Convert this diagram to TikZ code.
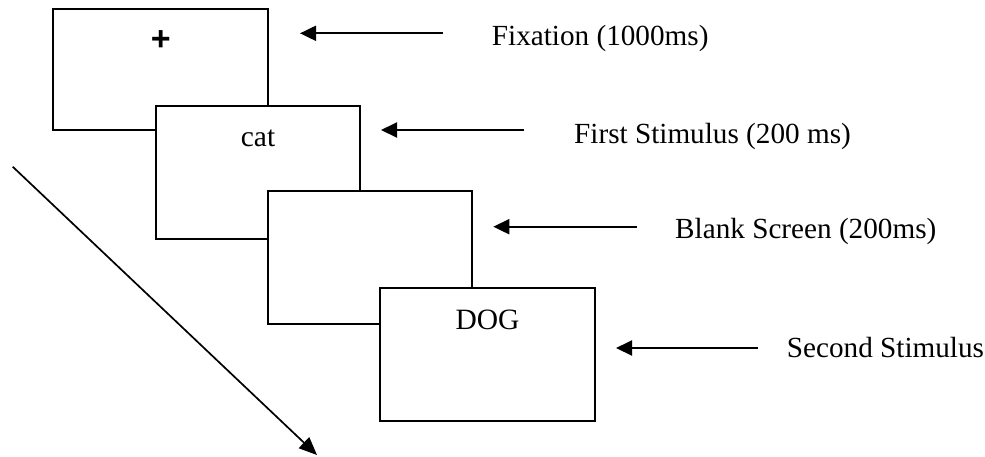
\documentclass[tikz,border=0pt]{standalone}
\usepackage{fontspec}
\setmainfont{Liberation Serif}
\newfontfamily\plusfont{Liberation Sans}
\usetikzlibrary{arrows.meta}
\begin{document}
\begin{tikzpicture}[x=1pt,y=-1pt,
  screen/.style={draw=black, line width=2.2pt, fill=white, rectangle, inner sep=0pt},
  lbl/.style={anchor=base west, inner sep=0pt, font=\fontsize{29.2}{35}\selectfont},
  word/.style={anchor=base, inner sep=0pt, font=\fontsize{29.5}{35}\selectfont},
  pointer/.style={line width=2pt, -{Triangle[length=16pt,width=15pt]}},
  timeline/.style={line width=1.7pt, -{Triangle[length=18pt,width=15pt]}}]
\useasboundingbox (0,0) rectangle (985,456);
\node[screen, minimum width=215pt, minimum height=120.7pt] (b1) at (160.8,69.7) {};
\node[screen, minimum width=204.3pt, minimum height=132.7pt] (b2) at (257.8,172.7) {};
\node[screen, minimum width=204.3pt, minimum height=133pt] (b3) at (370.2,257.5) {};
\node[screen, minimum width=215pt, minimum height=133pt] (b4) at (487.5,354.2) {};
\node[inner sep=0pt, font=\plusfont\bfseries\fontsize{34}{38}\selectfont] (plus) at (160.7,40.7) {+};
\node[word] (cat) at (258,146.7) {cat};
\node[word] (dog) at (487.5,329.3) {DOG};
\node[lbl] (t1) at (491.7,45) {Fixation (1000ms)};
\node[lbl] (t2) at (574,143) {First Stimulus (200 ms)};
\node[lbl] (t3) at (675,238) {Blank Screen (200ms)};
\node[lbl] (t4) at (786.7,357) {Second Stimulus};
\coordinate (a1s) at (442.7,33.3); \coordinate (a1e) at (300,33.3);
\coordinate (a2s) at (524,130); \coordinate (a2e) at (381,130);
\coordinate (a3s) at (636.7,226.7); \coordinate (a3e) at (493.3,226.7);
\coordinate (a4s) at (758,348); \coordinate (a4e) at (616,348);
\coordinate (ds) at (12.7,166.7); \coordinate (de) at (317,455);
\draw[pointer] (a1s) -- (a1e);
\draw[pointer] (a2s) -- (a2e);
\draw[pointer] (a3s) -- (a3e);
\draw[pointer] (a4s) -- (a4e);
\draw[timeline] (ds) -- (de);
\end{tikzpicture}
\end{document}
